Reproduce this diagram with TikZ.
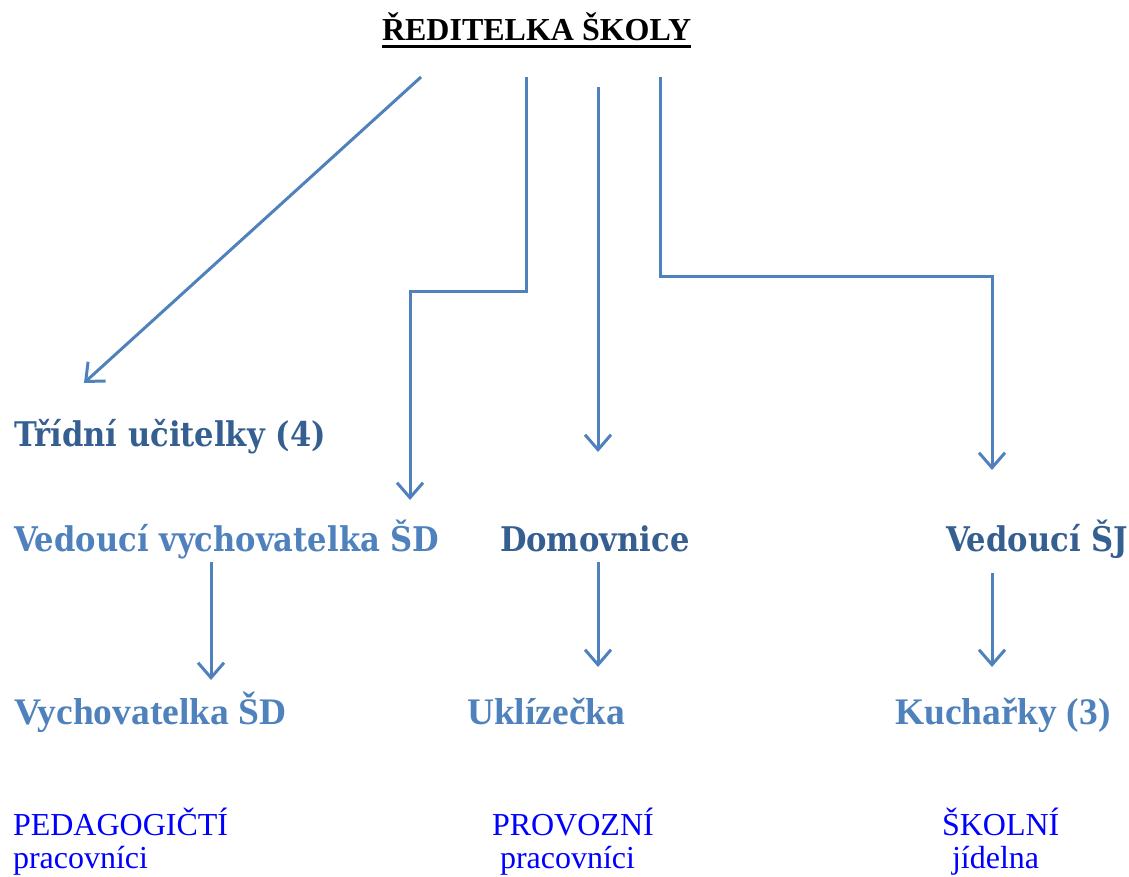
\documentclass[tikz,border=0pt]{standalone}
\usepackage{fontspec}
\setmainfont{Liberation Serif}
\newfontfamily\camb[FakeStretch=0.9]{DejaVu Serif}
\usetikzlibrary{arrows.meta}
\definecolor{dblue}{HTML}{365F91}
\definecolor{lblue}{HTML}{4F81BD}
\definecolor{pblue}{HTML}{0000FF}
\tikzset{
  lbl/.style={anchor=base west, inner sep=0pt, outer sep=0pt},
  cam/.style={lbl, font=\camb\bfseries\fontsize{34}{34}\selectfont},
  tms/.style={lbl, font=\bfseries\fontsize{37.5}{37.5}\selectfont},
  foot/.style={lbl, text=pblue, font=\fontsize{32}{32}\selectfont},
  conn/.style={draw=lblue, line width=3pt, -{Straight Barb[length=15pt,width=26pt,line width=3pt]}},
}
\begin{document}
\begin{tikzpicture}[x=1pt,y=-1pt]
\useasboundingbox (0,0) rectangle (1129,877);
\node[lbl, font=\bfseries\fontsize{32}{32}\selectfont] (head) at (382,41) {ŘEDITELKA ŠKOLY};
\draw[line width=3.5pt] (head.base west) ++(0,5.5) coordinate (ul1) -- (ul1 -| head.base east);
\node[cam, text=dblue] (tu) at (14,446) {Třídní učitelky (4)};
\node[cam, text=lblue] (vv) at (14,551) {Vedoucí vychovatelka ŠD};
\node[cam, text=dblue] (dom) at (500,551) {Domovnice};
\node[cam, text=dblue] (vsj) at (946,551) {Vedoucí ŠJ};
\node[tms, text=lblue] (vsd) at (14,724) {Vychovatelka ŠD};
\node[tms, text=lblue] (ukl) at (467,724) {Uklízečka};
\node[tms, text=lblue] (kuch) at (895,724) {Kuchařky (3)};
\node[foot] (ped) at (13,835) {PEDAGOGIČTÍ};
\node[foot] (ped2) at (13,868) {pracovníci};
\node[foot] (pro) at (492,835) {PROVOZNÍ};
\node[foot] (pro2) at (500,868) {pracovníci};
\node[foot] (sko) at (942,835) {ŠKOLNÍ};
\node[foot] (sko2) at (952,868) {jídelna};
% connector endpoints
\coordinate (s1) at (421,77);
\coordinate (e1) at (84,383);
\coordinate (s2) at (526,77);
\coordinate (e2) at (410,500);
\coordinate (s3) at (598,87);
\coordinate (e3) at (598,452);
\coordinate (s4) at (660,77);
\coordinate (e4) at (992,470);
\coordinate (s5) at (211,562);
\coordinate (e5) at (211,680);
\coordinate (s6) at (598,562);
\coordinate (e6) at (598,667);
\coordinate (s7) at (992,573);
\coordinate (e7) at (992,667);
\draw[conn] (s1) -- (e1);
\draw[conn] (s2) -- (526,291) -- (410,291) -- (e2);
\draw[conn] (s3) -- (e3);
\draw[conn] (s4) -- (660,276) -- (992,276) -- (e4);
\draw[conn] (s5) -- (e5);
\draw[conn] (s6) -- (e6);
\draw[conn] (s7) -- (e7);
\end{tikzpicture}
\end{document}
